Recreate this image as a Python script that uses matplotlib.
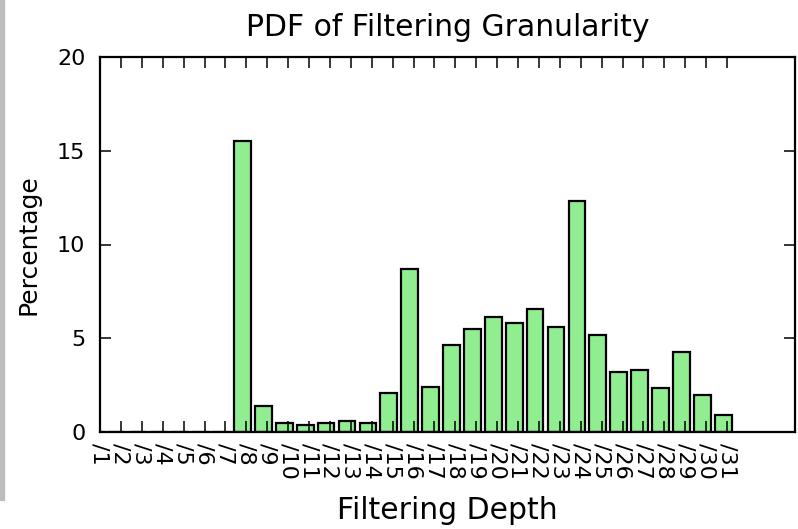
import matplotlib
matplotlib.use("Agg")
import matplotlib.pyplot as plt
from matplotlib.patches import Rectangle

labels = ["/%d" % k for k in range(1, 32)]
values = [0, 0, 0, 0, 0, 0, 0, 15.5, 1.38, 0.5, 0.38, 0.5, 0.6, 0.5, 2.1, 8.7,
          2.4, 4.66, 5.51, 6.15, 5.83, 6.58, 5.62, 12.34, 5.19, 3.2, 3.3, 2.35,
          4.27, 1.97, 0.9]

fig = plt.figure(figsize=(7.98, 5.29), dpi=100)
ax = fig.add_axes([100/798, 1-432/529, 695/798, 375/529])

pos = list(range(len(values)))
ax.bar([p - 0.18 for p in pos], values, width=0.8, color="#90EE90",
       edgecolor="black", linewidth=1.6, align="center")

ax.set_xlim(0, 695/20.9)
ax.set_ylim(0, 20)
ax.set_yticks([0, 5, 10, 15, 20])
ax.set_xticks(pos)
ax.set_xticklabels(labels, rotation=270, fontsize=16)
ax.tick_params(direction="in", length=8, width=1.1, top=True, right=True)
ax.tick_params(axis="x", pad=8)
ax.tick_params(axis="y", labelsize=16, pad=10.5)
for s in ax.spines.values():
    s.set_linewidth(1.6)

ax.set_title("PDF of Filtering Granularity", fontsize=21.5, pad=15)
ax.set_xlabel("Filtering Depth", fontsize=21.5, labelpad=12)
ax.set_ylabel("Percentage", fontsize=18, labelpad=12)

fig.patches.append(Rectangle((0, 1-500/529), 4/798, 500/529, transform=fig.transFigure,
                             color="#bdbdbd", zorder=-1))

fig.savefig("out.png", dpi=100)
